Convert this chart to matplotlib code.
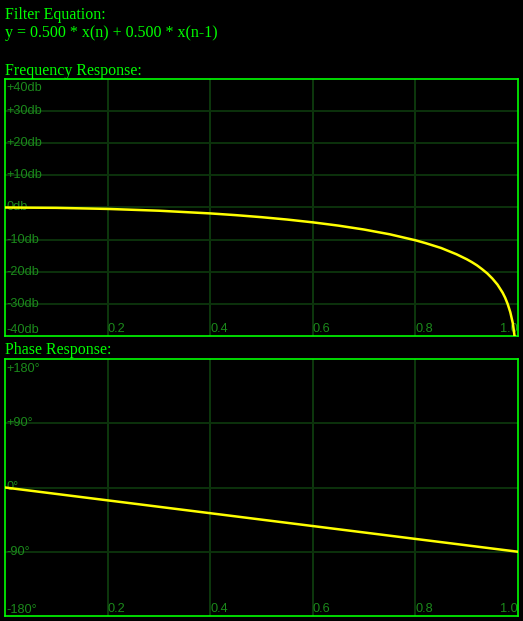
import matplotlib
matplotlib.use("Agg")
import matplotlib.pyplot as plt
import matplotlib.transforms as mtransforms

# frequency response (normalised freq -> dB)
freq = [0.0, 0.1, 0.2, 0.3, 0.4, 0.45, 0.5, 0.55, 0.6, 0.65, 0.7, 0.75,
        0.8, 0.82, 0.85, 0.87, 0.88, 0.9, 0.91, 0.92, 0.93, 0.94, 0.95,
        0.96, 0.97, 0.975, 0.98, 0.985, 0.99, 0.995, 1.0]
mag_db = [0.0, -0.11, -0.44, -1.0, -1.84, -2.38, -3.01, -3.75, -4.62, -5.64,
          -6.86, -8.34, -10.2, -11.1, -12.6, -13.9, -14.55, -16.1, -17.0,
          -18.0, -19.2, -20.5, -22.1, -24.0, -26.5, -28.1, -30.1, -32.6,
          -36.1, -42.1, -60.0]

# phase response (degrees)
phase_freq = [0.0, 1.0]
phase_deg = [0.0, -90.0]

db_ticks = [40, 30, 20, 10, 0, -10, -20, -30, -40]
deg_ticks = [180, 90, 0, -90, -180]
x_ticks = [0.2, 0.4, 0.6, 0.8, 1.0]

W, H = 523, 621
GREEN = "#00ff00"
VGRID = "#0f420f"
HGRID = "#0c320c"
LABEL = "#1b8a1b"
CURVE = "#ffff00"

fig = plt.figure(figsize=(W / 100, H / 100), dpi=100, facecolor="black")


def px_axes(x0, y0, x1, y1):
    return fig.add_axes([x0 / W, 1 - y1 / H, (x1 - x0) / W, (y1 - y0) / H])


def style(ax, ylim, yticks, fmt):
    ax.set_facecolor("black")
    ax.set_xlim(0, 1)
    ax.set_ylim(*ylim)
    ax.set_xticks([])
    ax.set_yticks([])
    for s in ax.spines.values():
        s.set_color(GREEN)
        s.set_linewidth(1.2)
    for xt in x_ticks[:-1]:
        ax.axvline(xt, color=VGRID, lw=1.2, zorder=1)
    for yt in yticks[1:-1]:
        ax.axhline(yt, color=HGRID, lw=1.4, zorder=1)
    tr = mtransforms.blended_transform_factory(ax.transAxes, ax.transData)
    down = mtransforms.offset_copy(tr, fig=fig, y=-3.5, units="dots")
    for i, yt in enumerate(yticks):
        va, t = "center", tr
        if i == 0:
            va, t = "top", down
        elif i == len(yticks) - 1:
            va = "bottom"
        ax.text(0.002, yt, fmt(yt), transform=t, color=LABEL, fontsize=9.2,
                family="Liberation Sans", va=va, ha="left", zorder=2)
    trx = mtransforms.blended_transform_factory(ax.transData, ax.transAxes)
    for xt in x_ticks:
        ax.text(xt, 0.003, f"{xt:.1f}", transform=trx, color=LABEL,
                fontsize=9.2, family="Liberation Sans", va="bottom",
                ha="right" if xt == 1.0 else "left", zorder=2)


ax1 = px_axes(5, 79, 518, 336)
style(ax1, (-40, 40), db_ticks,
      lambda v: f"+{v}db" if v > 0 else (f"{v}db" if v < 0 else "0db"))
ax1.plot(freq, mag_db, color=CURVE, lw=1.8, zorder=3, solid_capstyle="butt")

ax2 = px_axes(5, 359, 518, 616)
style(ax2, (-180, 180), deg_ticks,
      lambda v: f"+{v}°" if v > 0 else f"{v}°")
ax2.plot(phase_freq, phase_deg, color=CURVE, lw=1.8, zorder=3)

serif = dict(color=GREEN, fontsize=11.5, family="Liberation Serif",
             va="baseline", ha="left")
fig.text(5 / W, 1 - 19 / H, "Filter Equation:", **serif)
fig.text(5 / W, 1 - 37 / H, "y = 0.500 * x(n) + 0.500 * x(n-1)", **serif)
fig.text(5 / W, 1 - 75 / H, "Frequency Response:", **serif)
fig.text(5 / W, 1 - 354 / H, "Phase Response:", **serif)

fig.savefig("out.png", dpi=100, facecolor="black")
